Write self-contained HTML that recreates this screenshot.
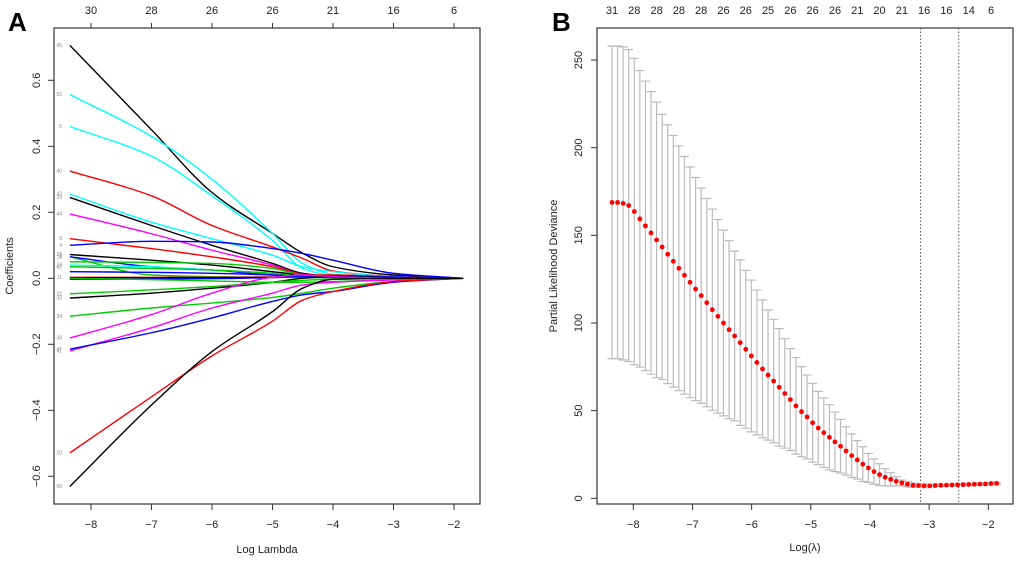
<!DOCTYPE html>
<html><head><meta charset="utf-8">
<style>
html,body{margin:0;padding:0;background:#fff;}
svg{display:block;font-family:"Liberation Sans",Arial,sans-serif;}
</style></head>
<body>
<svg id="chart" width="1020" height="561" viewBox="0 0 1020 561" xmlns="http://www.w3.org/2000/svg">
  <text x="8" y="31" font-size="26" font-weight="bold">A</text>
  <text x="552" y="31" font-size="26" font-weight="bold">B</text>
  <g id="pa"></g>
  <g id="pb"></g>
</svg>
<script>
// ---------- Panel A data ----------
const aKnotX = [-8.35,-7,-6,-5,-4.5,-4,-3,-1.85];
const aXTicks = [-8,-7,-6,-5,-4,-3,-2];
const aTopLabels = ["30","28","26","26","21","16","6"];
const aYTicks = [-0.6,-0.4,-0.2,0.0,0.2,0.4,0.6];
const aNames = ["45","53","5","40","43","29","44","9","4","28","18","7","","24","42","","11","","","","33","32","34","38","41","47","20","50"];
const aColors = ["#000","#0ff","#0ff","#f00","#0ff","#000","#f0f","#f00","#00f","#000","#0c0","#00f","#0c0","#0ff","#0c0","#00f","#f00","#000","#00f","#0c0","#000","#0c0","#0c0","#f0f","#f0f","#00f","#f00","#000"];
const aValues = [
 [0.706,0.45,0.26,0.136,0.076,0.035,0.01,0],
 [0.557,0.43,0.30,0.136,0.045,0.012,0.003,0],
 [0.46,0.37,0.25,0.115,0.03,0.008,0.002,0],
 [0.325,0.25,0.16,0.095,0.06,0.022,0.006,0],
 [0.255,0.17,0.12,0.07,0.035,0.02,0.005,0],
 [0.245,0.16,0.10,0.045,0.015,0.006,0.002,0],
 [0.195,0.135,0.085,0.04,0.012,0.004,0.001,0],
 [0.12,0.09,0.065,0.035,0.012,0.005,0.002,0],
 [0.10,0.112,0.11,0.09,0.075,0.055,0.015,0],
 [0.072,0.055,0.04,0.02,0.01,0.005,0.002,0],
 [0.065,0.01,0.005,0.003,0.002,0.001,0,0],
 [0.065,0.035,0.025,0.01,0.005,0.002,0,0],
 [0.05,0.048,0.045,0.03,0.01,0.004,0.001,0],
 [0.04,0.035,0.025,0.015,0.005,0.002,0,0],
 [0.035,0.03,0.025,0.015,0.005,0.002,0,0],
 [0.02,0.018,0.015,0.01,0.005,0.003,0.001,0],
 [0.003,0.003,0.003,0.004,0.01,0.01,0.004,0],
 [0.002,0.002,0.002,0.003,0.006,0.006,0.002,0],
 [-0.003,-0.002,-0.001,0.002,0.006,0.008,0.004,0],
 [0.0,-0.004,-0.008,-0.012,-0.012,-0.01,-0.004,0],
 [-0.06,-0.045,-0.03,-0.012,0,0.005,0.002,0],
 [-0.047,-0.035,-0.025,-0.012,-0.006,-0.003,-0.001,0],
 [-0.115,-0.09,-0.075,-0.058,-0.045,-0.03,-0.01,0],
 [-0.181,-0.11,-0.045,0.003,0.01,0.005,0.001,0],
 [-0.22,-0.15,-0.09,-0.045,-0.02,-0.012,-0.005,0],
 [-0.215,-0.165,-0.12,-0.07,-0.05,-0.04,-0.012,0],
 [-0.529,-0.359,-0.235,-0.13,-0.066,-0.04,-0.01,0],
 [-0.631,-0.384,-0.222,-0.101,-0.03,-0.003,0,0]
];
// ---------- Panel B data ----------
const bXStart = -8.36, bXEnd = -1.86;
const bMean = [168.8,168.8,168.2,167,163.6,159.4,155.4,151.4,147.4,143.4,139.2,135.2,131.2,127.2,123.2,
 119.4,115.6,111.6,107.6,103.8,100.0,96.2,92.6,88.8,85.0,81.2,77.5,73.8,70.3,66.9,63.3,59.8,56.3,52.7,49.4,46.4,43.1,40.1,37.4,34.8,32.2,29.7,27.0,24.3,21.9,19.5,17.3,15.2,13.5,12.0,10.8,9.7,8.8,8.0,7.4,7.3,7.1,7.1,7.3,7.4,
 7.5,7.6,7.7,7.8,7.9,8.0,8.1,8.2,8.4,8.5];
const bUpper = [258,258,257.5,256,251,244,238,232,226,219,213,207,201,195,189,183,177,171,165,159,153,147,141,136,130,124.5,
 118.8,113.1,107.4,102.1,96.8,91.0,85.4,80.2,75.1,70.3,65.6,61.0,57.2,53.4,49.2,45.0,40.8,36.7,32.9,29.4,25.6,22.4,19.7,16.9,14.6,12.3,10.4,9.5,
 8.6,8.2,8.1,7.9,7.9,8.0,8.1,8.2,8.3,8.4,8.5,8.6,8.7,8.8,9.0,9.1];
const bTopLabels = ["31","28","28","28","28","26","26","25","26","26","26","21","20","21","16","16","14","6"];
const bXTicks = [-8,-7,-6,-5,-4,-3,-2];
const bYTicks = [0,50,100,150,200,250];
const bVLines = [-3.145,-2.5];

const NS="http://www.w3.org/2000/svg";
function mk(parent,tag,attrs){const e=document.createElementNS(NS,tag);for(const k in attrs)e.setAttribute(k,attrs[k]);parent.appendChild(e);return e;}

function monotonePath(pts){
 const n=pts.length,dx=[],s=[],m=[];
 for(let i=0;i<n-1;i++){dx[i]=pts[i+1][0]-pts[i][0];s[i]=(pts[i+1][1]-pts[i][1])/dx[i];}
 m[0]=s[0];m[n-1]=s[n-2];
 for(let i=1;i<n-1;i++){
  if(s[i-1]*s[i]<=0)m[i]=0;
  else{const w1=2*dx[i]+dx[i-1],w2=dx[i]+2*dx[i-1];m[i]=(w1+w2)/(w1/s[i-1]+w2/s[i]);}
 }
 let d="M"+pts[0][0].toFixed(2)+","+pts[0][1].toFixed(2);
 for(let i=0;i<n-1;i++){
  const h=dx[i]/3;
  d+=" C"+(pts[i][0]+h).toFixed(2)+","+(pts[i][1]+m[i]*h).toFixed(2)+" "+(pts[i+1][0]-h).toFixed(2)+","+(pts[i+1][1]-m[i+1]*h).toFixed(2)+" "+pts[i+1][0].toFixed(2)+","+pts[i+1][1].toFixed(2);
 }
 return d;
}

// ---------- Panel A ----------
(function(){
 const g=document.getElementById('pa');
 const L=54,R=480,T=28,B=504;
 const xs=v=>91+(v+8)*60.5;
 const ys=v=>278.3-v*330;
 for(let i=0;i<aValues.length;i++){
  const pts=aKnotX.map((x,j)=>[xs(x),ys(aValues[i][j])]);
  const p=mk(g,'path',{d:monotonePath(pts),fill:'none',stroke:aColors[i],'stroke-width':1.4});
  
  
  if(aNames[i]){
   const t=mk(g,'text',{x:62,y:(pts[0][1]+1.5).toFixed(1),'font-size':5,fill:'#888','text-anchor':'end'});
   t.textContent=aNames[i];
   
   
  }
 }
 const box=mk(g,'rect',{x:L,y:T,width:R-L,height:B-T,fill:'none',stroke:'#333','stroke-width':1.2});
 
 
 aXTicks.forEach((v,i)=>{
  const x=xs(v);
  mk(g,'line',{x1:x,y1:B,x2:x,y2:B+6,stroke:'#333'});
  const t=mk(g,'text',{x:x,y:B+24,'font-size':11,'text-anchor':'middle',fill:'#222'});
  t.textContent=(v<0?'\u2212':'')+Math.abs(v);
  
  
  mk(g,'line',{x1:x,y1:T,x2:x,y2:T-5,stroke:'#333'});
  const u=mk(g,'text',{x:x,y:14,'font-size':11,'text-anchor':'middle',fill:'#222'});
  u.textContent=aTopLabels[i];
  
  
 });
 aYTicks.forEach(v=>{
  const y=ys(v);
  mk(g,'line',{x1:L,y1:y,x2:L-6,y2:y,stroke:'#333'});
  const t=mk(g,'text',{x:0,y:0,'font-size':11,'text-anchor':'middle',fill:'#222',transform:`translate(40,${y}) rotate(-90)`});
  t.textContent=(v<0?'\u2212':'')+Math.abs(v).toFixed(1);
  
  
 });
 const xt=mk(g,'text',{x:267,y:553,'font-size':11,'text-anchor':'middle',fill:'#222'});
 xt.textContent='Log Lambda';
 
 
 const yt=mk(g,'text',{x:0,y:0,'font-size':11,'text-anchor':'middle',fill:'#222',transform:'translate(13,266) rotate(-90)'});
 yt.textContent='Coefficients';
 
 
})();

// ---------- Panel B ----------
(function(){
 const g=document.getElementById('pb');
 const L=597,R=1013,T=28,B=504;
 const xs=v=>633.3+(v+8)*59.17;
 const ys=v=>498.3-v*1.753;
 const n=bMean.length;
 const lx=i=>bXStart+(bXEnd-bXStart)*i/(n-1);
 bVLines.forEach(v=>{
  const l=mk(g,'line',{x1:xs(v),y1:T,x2:xs(v),y2:B,stroke:'#555','stroke-dasharray':'1.5,2','stroke-width':1});
  
  
 });
 for(let i=0;i<n;i++){
  const x=xs(lx(i)),up=bUpper[i],lo=2*bMean[i]-bUpper[i];
  const yu=ys(up),yl=ys(lo);
  const e=mk(g,'path',{d:`M${x},${yu}V${yl}M${x-4.5},${yu}H${x+4.5}M${x-4.5},${yl}H${x+4.5}`,stroke:'#bbb','stroke-width':1.2,fill:'none'});
  
  
 }
 for(let i=0;i<n;i++){
  const c=mk(g,'circle',{cx:xs(lx(i)),cy:ys(bMean[i]),r:2.4,fill:'#f00'});
  
  
 }
 bTopLabels.forEach((s,k)=>{
  const t=mk(g,'text',{x:xs(lx(k*4)),y:14,'font-size':11,'text-anchor':'middle',fill:'#222'});
  t.textContent=s;
  
  
 });
 const box=mk(g,'rect',{x:L,y:T,width:R-L,height:B-T,fill:'none',stroke:'#333','stroke-width':1.2});
 
 
 bXTicks.forEach(v=>{
  const x=xs(v);
  mk(g,'line',{x1:x,y1:B,x2:x,y2:B+6,stroke:'#333'});
  const t=mk(g,'text',{x:x,y:B+24,'font-size':11,'text-anchor':'middle',fill:'#222'});
  t.textContent=(v<0?'\u2212':'')+Math.abs(v);
  
  
 });
 bYTicks.forEach(v=>{
  const y=ys(v);
  mk(g,'line',{x1:L,y1:y,x2:L-6,y2:y,stroke:'#333'});
  const t=mk(g,'text',{x:0,y:0,'font-size':11,'text-anchor':'middle',fill:'#222',transform:`translate(582,${y}) rotate(-90)`});
  t.textContent=String(v);
  
  
 });
 const xt=mk(g,'text',{x:805,y:551,'font-size':11,'text-anchor':'middle',fill:'#222'});
 xt.textContent='Log(\u03bb)';
 
 
 const yt=mk(g,'text',{x:0,y:0,'font-size':11,'text-anchor':'middle',fill:'#222',transform:'translate(557,266) rotate(-90)'});
 yt.textContent='Partial Likelihood Deviance';
 
 
})();
</script>
</body></html>
